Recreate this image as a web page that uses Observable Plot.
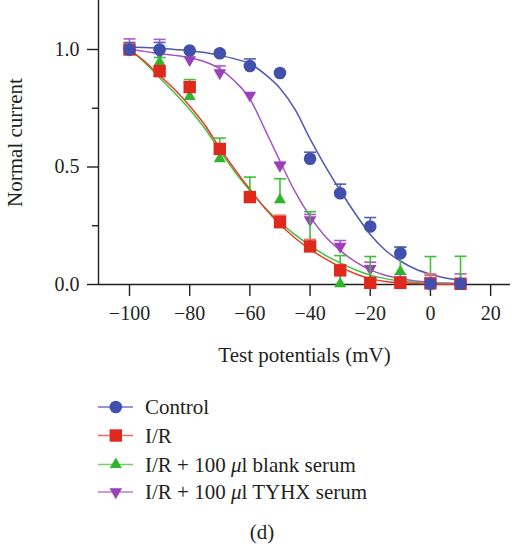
<!DOCTYPE html>
<html>
<head>
<meta charset="utf-8">
<script src="https://cdn.jsdelivr.net/npm/d3@7"></script>
<script src="https://cdn.jsdelivr.net/npm/@observablehq/plot@0.6"></script>
<style>
  html, body { margin: 0; padding: 0; background: #fff; }
  #fig { position: relative; width: 523px; height: 547px; overflow: hidden; font-family: "Liberation Serif", "Times New Roman", serif; }
  #fig svg { display: block; }
</style>
</head>
<body>
<div id="fig"></div>
<script>
// ---------- data ----------
const seriesNames = ["Control", "I/R", "I/R + 100 μl blank serum", "I/R + 100 μl TYHX serum"];
const voltages = [-100, -90, -80, -70, -60, -50, -40, -30, -20, -10, 0, 10];

const controlMean = [1.0, 1.0, 0.996, 0.984, 0.93, 0.90, 0.535, 0.388, 0.247, 0.133, 0.003, 0.003];
const controlErr  = [0.03, 0.03, 0, 0, 0.03, 0, 0.028, 0.039, 0.038, 0.026, 0.01, 0.01];

const irMean = [1.0, 0.908, 0.84, 0.577, 0.372, 0.265, 0.162, 0.06, 0.007, 0.007, 0.005, 0.003];
const irErr  = [0.01, 0.01, 0.02, 0.02, 0.02, 0.03, 0.03, 0.025, 0.02, 0.02, 0.04, 0.01];

const blankMean = [1.0, 0.946, 0.80, 0.535, 0.38, 0.36, 0.17, 0.003, 0.015, 0.055, 0.0, 0.0];
const blankErr  = [0.01, 0.02, 0.072, 0.088, 0.077, 0.09, 0.14, 0.12, 0.104, 0.104, 0.119, 0.12];

const tyhxMean = [1.0, 0.985, 0.956, 0.90, 0.805, 0.506, 0.275, 0.162, 0.067, 0.02, 0.01, 0.005];
const tyhxErr  = [0.045, 0.058, 0, 0.03, 0, 0.015, 0.023, 0.025, 0.028, 0.023, 0.03, 0.04];

// fitted curves, every 5 mV
const fitVoltages = [-100, -95, -90, -85, -80, -75, -70, -65, -60, -55, -50, -45, -40, -35, -30, -25, -20, -15, -10, -5, 0, 5, 10];
const controlFit = [1.01, 1.008, 1.005, 1.0, 0.995, 0.987, 0.975, 0.96, 0.94, 0.895, 0.835, 0.745, 0.62, 0.505, 0.40, 0.302, 0.213, 0.146, 0.1, 0.066, 0.044, 0.028, 0.018];
const irFit      = [1.0, 0.95, 0.89, 0.83, 0.76, 0.68, 0.58, 0.49, 0.405, 0.325, 0.255, 0.198, 0.15, 0.11, 0.075, 0.046, 0.025, 0.013, 0.007, 0.004, 0.002, 0.001, 0.001];
const blankFit   = [1.0, 0.945, 0.88, 0.815, 0.745, 0.665, 0.57, 0.48, 0.40, 0.326, 0.265, 0.212, 0.165, 0.125, 0.092, 0.063, 0.04, 0.025, 0.015, 0.009, 0.005, 0.003, 0.002];
const tyhxFit    = [1.0, 0.992, 0.982, 0.975, 0.965, 0.948, 0.918, 0.865, 0.79, 0.66, 0.525, 0.395, 0.29, 0.205, 0.145, 0.097, 0.062, 0.039, 0.024, 0.015, 0.009, 0.006, 0.004];

const xTicks = [-100, -80, -60, -40, -20, 0, 20];
const yTicks = [0, 0.5, 1.0];
const yMinorTicks = [0.25, 0.75];
const xLabel = "Test potentials (mV)";
const yLabel = "Normal current";
const panelLabel = "(d)";

// ---------- styling ----------
const FONT = '"Liberation Serif", "Times New Roman", serif';
const triUp = {draw(ctx) { const s = 6.0, h = s * Math.sqrt(3); ctx.moveTo(0, -2 * h / 3); ctx.lineTo(s, h / 3); ctx.lineTo(-s, h / 3); ctx.closePath(); }};
const triDown = {draw(ctx) { const s = 6.3, h = s * Math.sqrt(3); ctx.moveTo(-s, -h / 3); ctx.lineTo(s, -h / 3); ctx.lineTo(0, 2 * h / 3); ctx.closePath(); }};
const capSym = {draw(ctx) { ctx.moveTo(-6, 0); ctx.lineTo(6, 0); }};

const series = [
  {name: seriesNames[3], mean: tyhxMean, err: tyhxErr, fit: tyhxFit, color: "#9b3fbd", line: "#a651c6", cap: "#a95ccb", symbol: triDown, r: 5},
  {name: seriesNames[2], mean: blankMean, err: blankErr, fit: blankFit, color: "#2fb52b", line: "#3fc23a", cap: "#3fbf3a", symbol: triUp, r: 5},
  {name: seriesNames[1], mean: irMean, err: irErr, fit: irFit, color: "#e0291d", line: "#e53a2e", cap: "#ee6f66", symbol: "square", r: 7.0},
  {name: seriesNames[0], mean: controlMean, err: controlErr, fit: controlFit, color: "#4250ad", line: "#4d59b2", cap: "#5360b6", symbol: "circle", r: 6.3}
];

const xDomain = [-110.3, 26.6];
const yDomain = [0, 284 / 235];

const marks = [];
for (const s of series) {
  const rows = fitVoltages.map((v, i) => ({v, y: s.fit[i]}));
  marks.push(Plot.line(rows, {x: "v", y: "y", stroke: s.line, strokeWidth: 1.5, curve: "monotone-x"}));
}
for (const s of series) {
  const pts = voltages.map((v, i) => ({v, y: s.mean[i], e: s.err[i]}));
  const withErr = pts.filter(d => d.e > 0);
  marks.push(Plot.ruleX(withErr, {x: "v", y1: "y", y2: d => d.y + d.e, stroke: s.cap, strokeWidth: 1.6}));
  marks.push(Plot.dot(withErr, {x: "v", y: d => d.y + d.e, symbol: capSym, stroke: s.cap, fill: "none", strokeWidth: 1.6}));
  marks.push(Plot.dot(pts, {x: "v", y: "y", symbol: s.symbol, r: s.r, fill: s.color, stroke: "none"}));
}

const plot = Plot.plot({
  width: 523,
  height: 375,
  marginLeft: 98,
  marginRight: 13,
  marginTop: 0,
  marginBottom: 91,
  x: {domain: xDomain},
  y: {domain: yDomain},
  style: {fontFamily: FONT, fontSize: "20px", color: "#231f20", background: "#fff", overflow: "visible"},
  marks: [
    Plot.ruleY([0], {stroke: "#231f20", strokeWidth: 1.4}),
    Plot.ruleX([xDomain[0]], {stroke: "#231f20", strokeWidth: 1.4}),
    Plot.axisX({ticks: xTicks, tickSize: 12, tickPadding: 9, label: null, strokeWidth: 1.4, fontSize: 20}),
    Plot.axisY({ticks: yTicks, tickFormat: d3.format(".1f"), tickSize: 11, tickPadding: 8, label: null, strokeWidth: 1.4, fontSize: 20}),
    Plot.axisY({ticks: yMinorTicks, tickFormat: () => "", tickSize: 6, label: null, strokeWidth: 1.4}),
    Plot.text([xLabel], {text: d => d, frameAnchor: "bottom", textAnchor: "middle", lineAnchor: "middle", dy: 71, fontSize: 21, fill: "#231f20"}),
    Plot.text([yLabel], {text: d => d, frameAnchor: "left", textAnchor: "middle", lineAnchor: "middle", dx: -83, rotate: -90, fontSize: 21, fill: "#231f20"}),
    ...marks
  ]
});
const fig = document.getElementById("fig");
fig.appendChild(plot);

// ---------- legend (below the chart) ----------
const legendOrder = [series[3], series[2], series[1], series[0]];
const legendY = [407, 435.5, 464.5, 492];
const lg = d3.select(fig).append("svg")
  .attr("width", 523).attr("height", 172)
  .style("position", "absolute").style("left", "0px").style("top", "375px");
const legendLine = {"#4250ad": "#6d76c4", "#e0291d": "#ee6a60", "#2fb52b": "#6fd16a", "#9b3fbd": "#bb7bd6"};
legendOrder.forEach((s, i) => {
  const cy = legendY[i] - 375;
  const g = lg.append("g");
  g.append("line").attr("x1", 98).attr("x2", 133).attr("y1", cy).attr("y2", cy)
    .attr("stroke", legendLine[s.color]).attr("stroke-width", 1.6);
  let path;
  if (s.symbol === "circle") path = d3.symbol(d3.symbolCircle, Math.PI * 6.3 * 6.3)();
  else if (s.symbol === "square") path = d3.symbol(d3.symbolSquare, Math.PI * 7 * 7)();
  else { const p = d3.path(); s.symbol.draw(p); path = p.toString(); }
  g.append("path").attr("d", path).attr("transform", `translate(115.8,${cy})`).attr("fill", s.color);
  const t = g.append("text").attr("x", 145).attr("y", cy + 7)
    .attr("font-family", FONT).attr("font-size", 21).attr("fill", "#231f20");
  const parts = s.name.split("μ");
  t.append("tspan").text(parts[0]);
  if (parts.length > 1) {
    t.append("tspan").attr("font-style", "italic").text("μ");
    t.append("tspan").text(parts[1]);
  }
});
lg.append("text").attr("x", 262).attr("y", 532 - 375 + 7).attr("text-anchor", "middle")
  .attr("font-family", FONT).attr("font-size", 21).attr("fill", "#231f20").text(panelLabel);
</script>
</body>
</html>
